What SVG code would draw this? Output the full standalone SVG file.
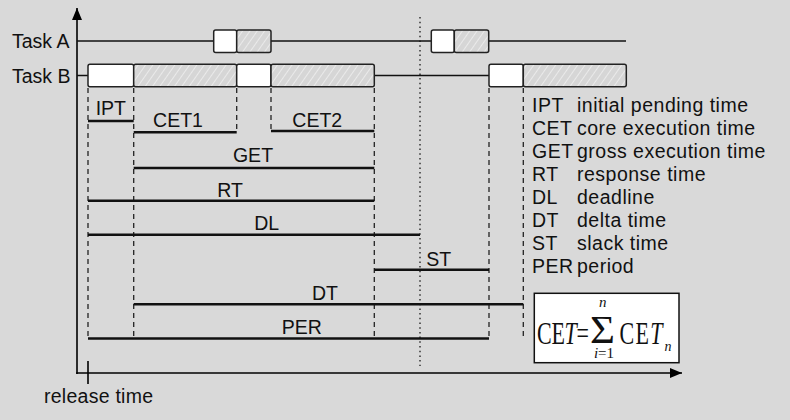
<svg xmlns="http://www.w3.org/2000/svg" width="790" height="420" viewBox="0 0 790 420">
<defs>
<pattern id="hatch" width="6" height="6" patternUnits="userSpaceOnUse" patternTransform="rotate(35)">
<rect width="6" height="6" fill="#d6d6d6"/>
<line x1="0" y1="0" x2="0" y2="6" stroke="#ffffff" stroke-width="1"/>
</pattern>
<marker id="arr" markerWidth="12" markerHeight="10" refX="12" refY="5" orient="auto" markerUnits="userSpaceOnUse">
<path d="M0,0 L12,5 L0,10 Z" fill="#000"/>
</marker>
</defs>
<style>
.t{font-family:"Liberation Sans",Arial,Helvetica,sans-serif;font-size:19.5px;fill:#111}
.lg{font-family:"Liberation Sans",Arial,Helvetica,sans-serif;font-size:19.5px;fill:#111;letter-spacing:0.5px}
.m{text-anchor:middle}
.f{font-family:"Liberation Serif","Times New Roman",serif;fill:#111}
.i{font-style:italic}
.ax{stroke:#000;stroke-width:1.6;fill:none}
.tl{stroke:#111;stroke-width:1.5;fill:none}
.w{fill:#fff;stroke:#222;stroke-width:1.5}
.h{fill:url(#hatch);stroke:#222;stroke-width:1.5}
.d{stroke:#222;stroke-width:1.3;stroke-dasharray:5,4;fill:none}
.dot{stroke:#333;stroke-width:1.5;stroke-dasharray:1.5,3.2;fill:none}
.b{stroke:#111;stroke-width:2.4;fill:none}
</style>
<rect width="790" height="420" fill="#d9d9d9"/>

<g id="axes">
<line class="ax" x1="77" y1="374" x2="77" y2="8" marker-end="url(#arr)"/>
<line class="ax" x1="76.2" y1="373" x2="682" y2="373" marker-end="url(#arr)"/>
<line class="ax" x1="88" y1="361" x2="88" y2="384"/>
<text class="t" x="44" y="402.5" textLength="109" lengthAdjust="spacing">release time</text>
</g>

<g id="guides">
<line class="dot" x1="420" y1="17" x2="420" y2="366"/>
<line class="d" x1="88" y1="88" x2="88" y2="339"/>
<line class="d" x1="133.7" y1="88" x2="133.7" y2="339"/>
<line class="d" x1="236.7" y1="88" x2="236.7" y2="132"/>
<line class="d" x1="271" y1="88" x2="271" y2="131"/>
<line class="d" x1="374.3" y1="88" x2="374.3" y2="339"/>
<line class="d" x1="489" y1="88" x2="489" y2="339"/>
<line class="d" x1="523.3" y1="88" x2="523.3" y2="339"/>
</g>

<g id="taskA">
<text class="t" x="12" y="48">Task A</text>
<line class="tl" x1="77" y1="41" x2="626" y2="41"/>
<rect class="w" x="213.7" y="30" width="23" height="22.5" rx="2"/>
<rect class="h" x="236.7" y="30" width="34.3" height="22.5" rx="2"/>
<rect class="w" x="431.3" y="30" width="23" height="22.5" rx="2"/>
<rect class="h" x="454.3" y="30" width="34.4" height="22.5" rx="2"/>
</g>

<g id="taskB">
<text class="t" x="12" y="82.5">Task B</text>
<line class="tl" x1="77" y1="75.5" x2="88" y2="75.5"/>
<line class="tl" x1="374.3" y1="75.5" x2="489" y2="75.5"/>
<rect class="w" x="88" y="64.3" width="45.7" height="22.5" rx="2"/>
<rect class="h" x="133.7" y="64.3" width="103" height="22.5" rx="2"/>
<rect class="w" x="236.7" y="64.3" width="34.3" height="22.5" rx="2"/>
<rect class="h" x="271" y="64.3" width="103.3" height="22.5" rx="2"/>
<rect class="w" x="489" y="64.3" width="34.3" height="22.5" rx="2"/>
<rect class="h" x="523.3" y="64.3" width="103" height="22.5" rx="2"/>
</g>

<g id="connectors">
<line class="b" x1="88" y1="121" x2="133.7" y2="121"/>
<line class="b" x1="133.7" y1="132.3" x2="236.7" y2="132.3"/>
<line class="b" x1="271" y1="131" x2="374.3" y2="131"/>
<line class="b" x1="133.7" y1="168" x2="374.3" y2="168"/>
<line class="b" x1="88" y1="200.7" x2="374.3" y2="200.7"/>
<line class="b" x1="88" y1="234.7" x2="420" y2="234.7"/>
<line class="b" x1="374.3" y1="269.7" x2="489" y2="269.7"/>
<line class="b" x1="133.7" y1="304.3" x2="523.3" y2="304.3"/>
<line class="b" x1="88" y1="338.5" x2="489" y2="338.5"/>
</g>

<g id="labels">
<text class="t m" x="110.8" y="115">IPT</text>
<text class="t m" x="178" y="127">CET1</text>
<text class="t m" x="317.3" y="127">CET2</text>
<text class="t m" x="253" y="161.7">GET</text>
<text class="t m" x="230" y="196.7">RT</text>
<text class="t m" x="266.7" y="230">DL</text>
<text class="t m" x="438.7" y="265.7">ST</text>
<text class="t m" x="325" y="300">DT</text>
<text class="t m" x="301.7" y="334">PER</text>
</g>

<g id="legend">
<text class="lg" x="532" y="111.5">IPT</text><text class="lg" x="577" y="111.5">initial pending time</text>
<text class="lg" x="532" y="134.5">CET</text><text class="lg" x="577" y="134.5">core execution time</text>
<text class="lg" x="532" y="157.5">GET</text><text class="lg" x="577" y="157.5">gross execution time</text>
<text class="lg" x="532" y="180.5">RT</text><text class="lg" x="577" y="180.5">response time</text>
<text class="lg" x="532" y="203.5">DL</text><text class="lg" x="577" y="203.5">deadline</text>
<text class="lg" x="532" y="226.5">DT</text><text class="lg" x="577" y="226.5">delta time</text>
<text class="lg" x="532" y="249.5">ST</text><text class="lg" x="577" y="249.5">slack time</text>
<text class="lg" x="532" y="272.5">PER</text><text class="lg" x="577" y="272.5">period</text>
</g>

<g id="formula">
<rect x="534.3" y="293.3" width="144.7" height="69.4" fill="#fff" stroke="#111" stroke-width="1.5"/>
<g transform="translate(0,344) scale(1,1.45)">
<text class="f" x="537" y="0" font-size="22" textLength="52" lengthAdjust="spacing">CE<tspan class="i">T</tspan>=</text>
<text class="f" x="619.5" y="0" font-size="22" textLength="43" lengthAdjust="spacing">CE<tspan class="i">T</tspan></text>
</g>
<g transform="translate(590,343.3) scale(1.3,1.2)">
<text class="f" x="0" y="0" font-size="33">Σ</text>
</g>
<text class="f i" x="664.5" y="351" font-size="14">n</text>
<text class="f i" x="599" y="306.5" font-size="15">n</text>
<text class="f" x="594" y="358" font-size="15" textLength="20" lengthAdjust="spacing"><tspan class="i">i</tspan>=1</text>
</g>
</svg>
